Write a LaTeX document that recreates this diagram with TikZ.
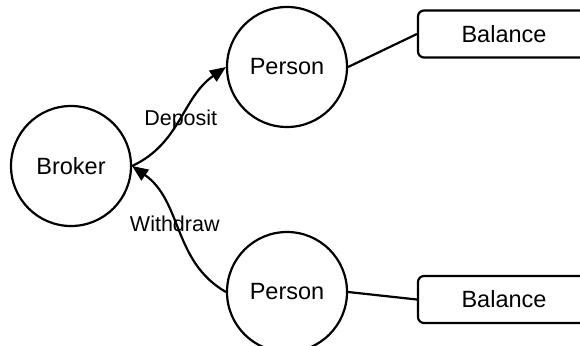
\documentclass[tikz,border=0pt]{standalone}
\usepackage{fontspec}
\setmainfont{Liberation Sans}
\usetikzlibrary{arrows.meta}
\begin{document}
\begin{tikzpicture}[x=1pt,y=1pt,
  every node/.style={font=\fontsize{23.5}{28}\selectfont},
  ent/.style={circle,draw,line width=2.2pt,minimum size=120pt,inner sep=0pt},
  bal/.style={rectangle,draw,line width=2.2pt,rounded corners=6pt,minimum width=172pt,minimum height=47pt,inner sep=0pt},
  conn/.style={line width=2.2pt},
  flow/.style={line width=2.2pt,-{Triangle[length=16pt,width=13pt]}},
  lbl/.style={font=\fontsize{21.5}{25}\selectfont,inner sep=0pt}]
\useasboundingbox (0,0) rectangle (580,-345);
\clip (0,0) rectangle (580,-345);
\node[ent] (broker) at (71,-166) {Broker};
\node[ent] (p1) at (287,-67) {Person};
\node[ent] (p2) at (287,-292) {Person};
\node[bal] (b1) at (504,-34) {Balance};
\node[bal] (b2) at (504,-299.5) {Balance};
\draw[conn] (p1.east) -- (b1.west);
\draw[conn] (p2.east) -- (b2.west);
\draw[flow] (broker.east) to[out=25,in=215] node[lbl,pos=0.5] {Deposit} (p1.west);
\draw[flow] (p2.west) to[out=150,in=-35] node[lbl,pos=0.55] {Withdraw} (broker.east);
\end{tikzpicture}
\end{document}
